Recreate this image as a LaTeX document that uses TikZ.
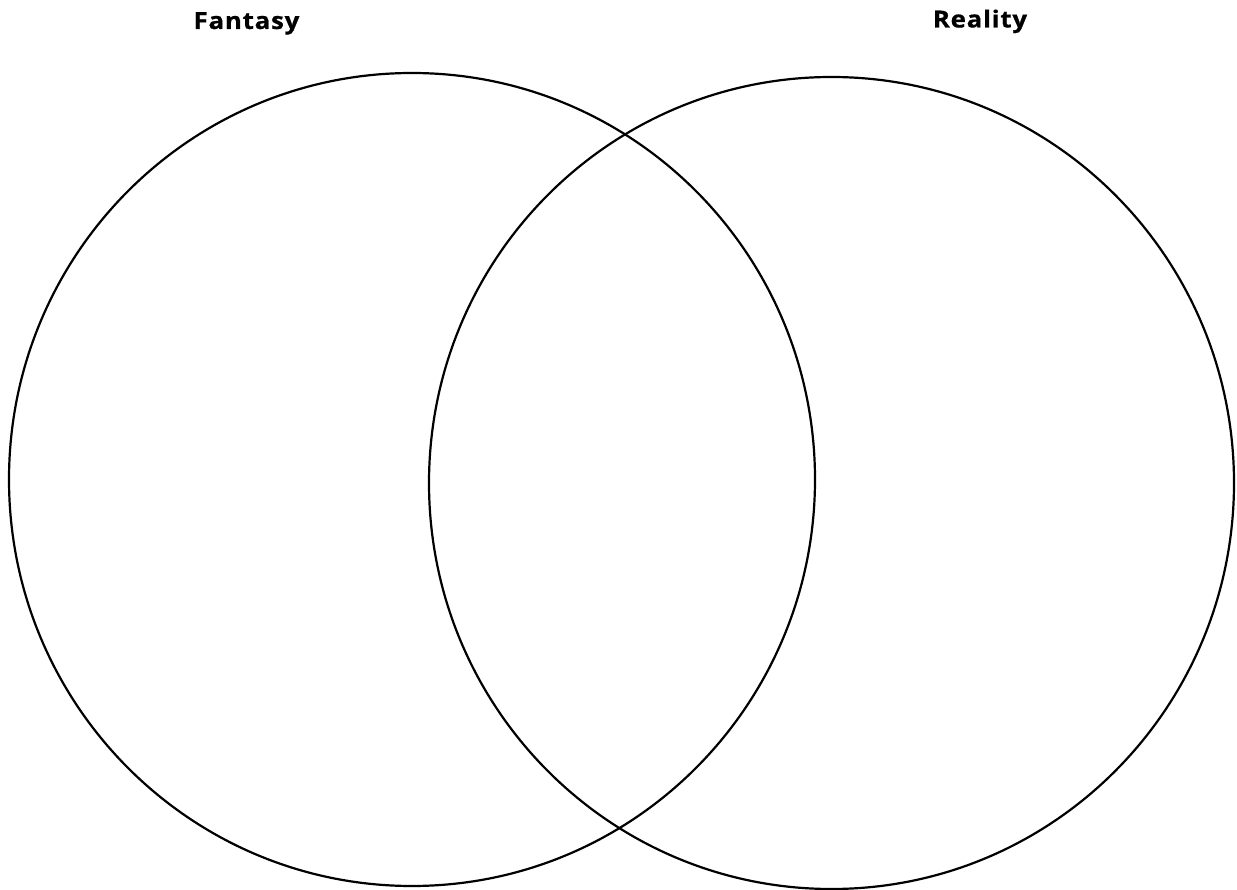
\documentclass[tikz,border=0pt]{standalone}
\usepackage{fontspec}
\setmainfont{Open Sans}
\newfontfamily\titlefont[LetterSpace=3,BoldFeatures={FakeBold=0.7}]{Open Sans}
\begin{document}
\begin{tikzpicture}[x=1pt,y=-1pt,
  setring/.style={draw=black,line width=2.2pt},
  title/.style={font=\titlefont\fontsize{23.5}{27}\selectfont\bfseries,anchor=base,inner sep=0pt,xscale=1.1,transform shape}]
\useasboundingbox[fill=white] (0,0) rectangle (1237,890);
\draw[setring] (412,479.5) ellipse [x radius=403, y radius=406.5];
\draw[setring] (831.5,483) ellipse [x radius=402.5, y radius=406];
\node[title] (fantasy) at (246.5,29) {Fantasy};
\node[title] (reality) at (980,27.5) {Reality};
\end{tikzpicture}
\end{document}
